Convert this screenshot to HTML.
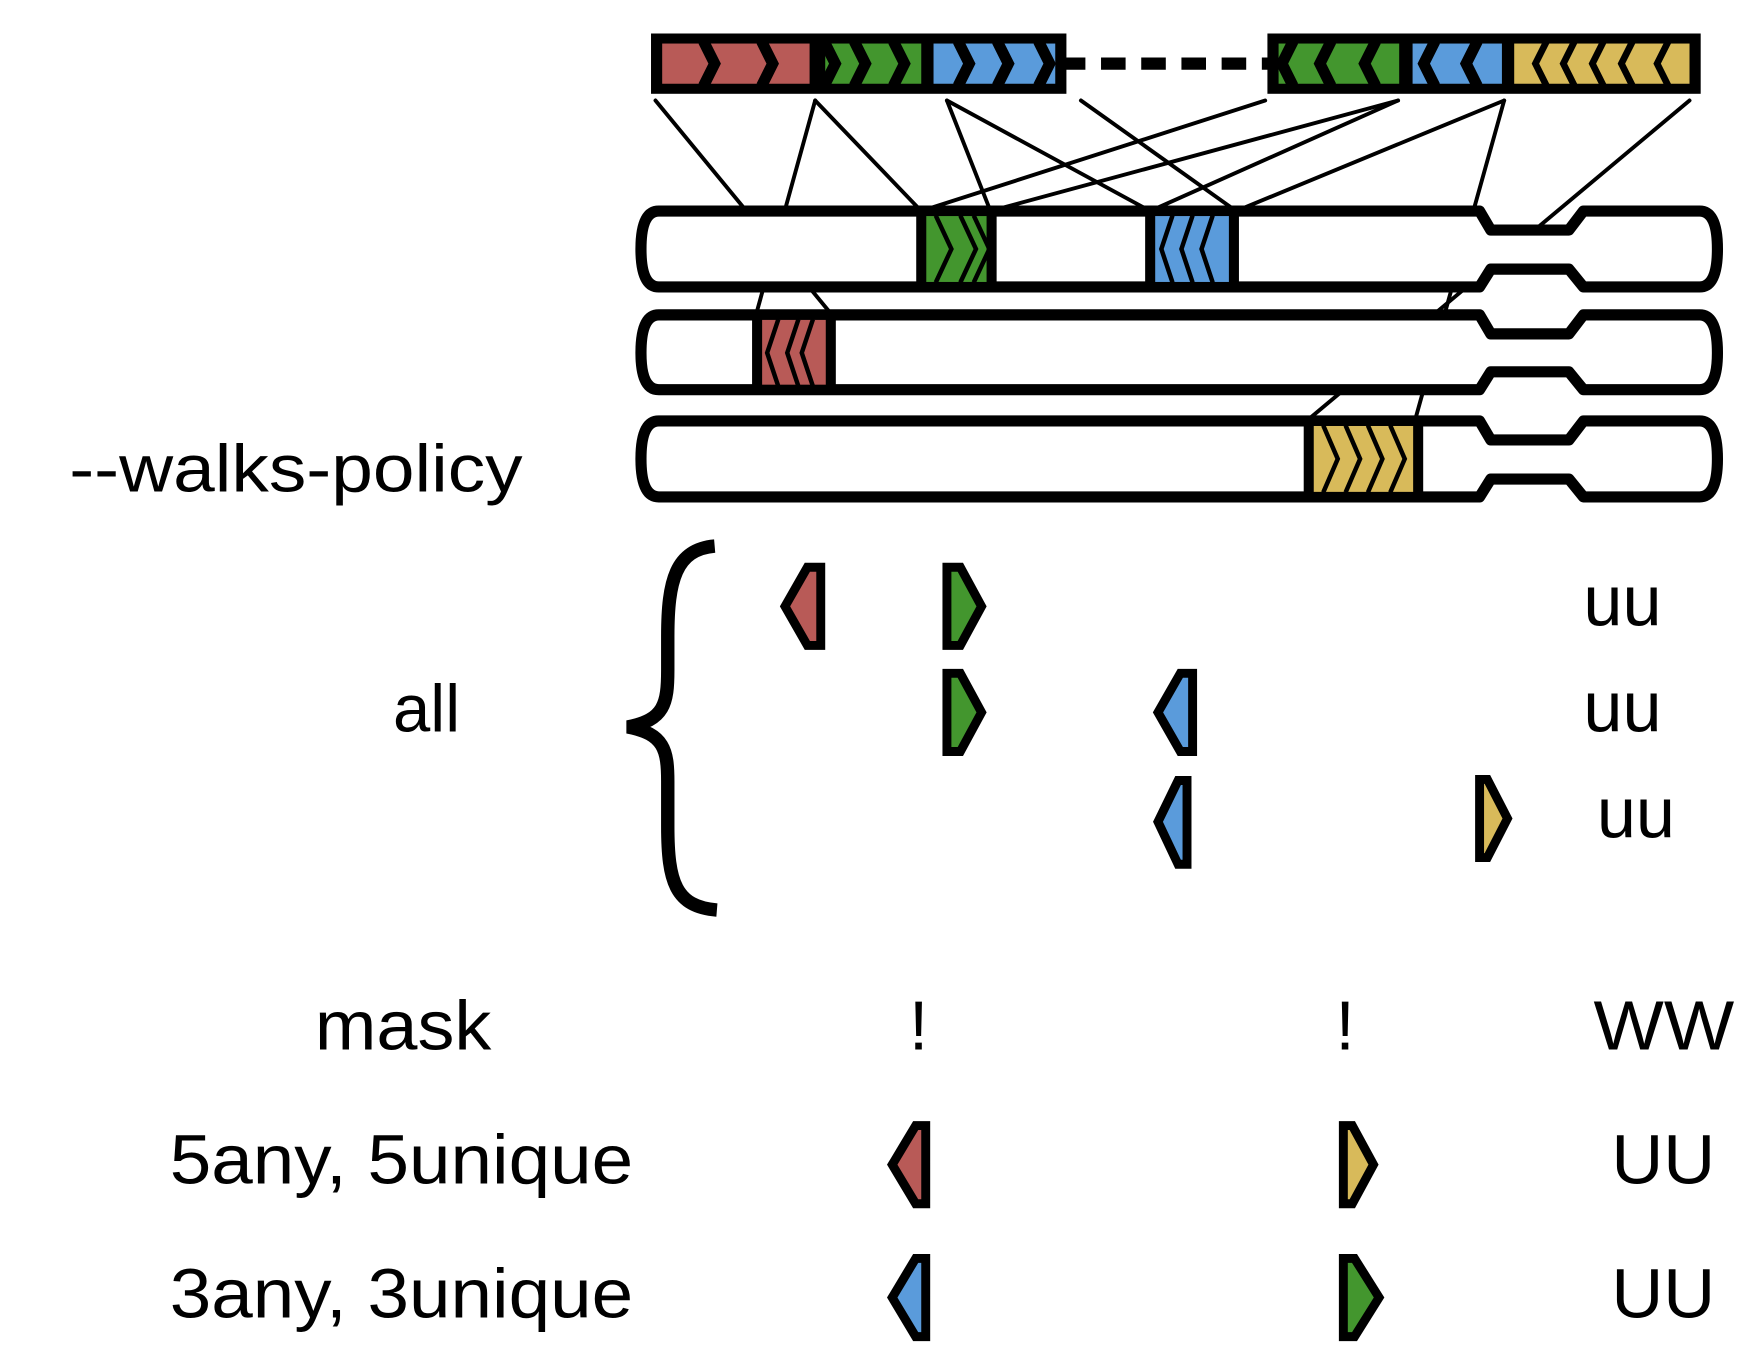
<!DOCTYPE html>
<html><head><meta charset="utf-8"><style>
html,body{margin:0;padding:0;background:#fff;}
svg{display:block;}
text{font-family:"Liberation Sans",Arial,sans-serif;fill:#000;}
</style></head><body>
<svg width="1742" height="1350" viewBox="0 0 1560 1209" preserveAspectRatio="none" xmlns="http://www.w3.org/2000/svg">
<g stroke="#000" stroke-width="3.5" fill="none" stroke-linecap="round">
<line x1="587" y1="90" x2="745" y2="282"/>
<line x1="730" y1="90" x2="677" y2="282"/>
<line x1="730" y1="90" x2="825" y2="189"/>
<line x1="848" y1="90" x2="887" y2="189"/>
<line x1="848" y1="90" x2="1030" y2="189"/>
<line x1="968" y1="90" x2="1107" y2="189"/>
<line x1="1133" y1="90" x2="825" y2="189"/>
<line x1="1252" y1="90" x2="887" y2="189"/>
<line x1="1252" y1="90" x2="1030" y2="189"/>
<line x1="1347" y1="90" x2="1107" y2="189"/>
<line x1="1347" y1="90" x2="1267" y2="377"/>
<line x1="1513" y1="90" x2="1170" y2="377"/>
</g>
<line x1="950" y1="57" x2="1140" y2="57" stroke="#000" stroke-width="11" stroke-dasharray="22,14"/>
<rect x="583" y="30" width="372" height="54" fill="#000"/>
<rect x="593" y="39" width="132" height="36" fill="#B85A57"/>
<rect x="739" y="39" width="86" height="36" fill="#43962E"/>
<rect x="836" y="39" width="109" height="36" fill="#5A9BDB"/>
<rect x="1135" y="30" width="388" height="54" fill="#000"/>
<rect x="1145" y="39" width="108" height="36" fill="#43962E"/>
<rect x="1265" y="39" width="80" height="36" fill="#5A9BDB"/>
<rect x="1356" y="39" width="157" height="36" fill="#D8BA5A"/>
<g stroke="#000" stroke-width="10" fill="none">
<polyline points="630,37 640,57 630,77"/><polyline points="682,37 692,57 682,77"/>
<polyline points="738,37 748,57 738,77"/><polyline points="765,37 775,57 765,77"/><polyline points="800,37 810,57 800,77"/>
<polyline points="858,37 868,57 858,77"/><polyline points="893,37 903,57 893,77"/><polyline points="930,37 940,57 930,77"/>
<polyline points="1158,37 1148,57 1158,77"/><polyline points="1192,37 1182,57 1192,77"/><polyline points="1232,37 1222,57 1232,77"/>
<polyline points="1285,37 1275,57 1285,77"/><polyline points="1323,37 1313,57 1323,77"/>
</g>
<g stroke="#000" stroke-width="6" fill="none">
<polyline points="1385,37 1375,57 1385,77"/><polyline points="1410,37 1400,57 1410,77"/><polyline points="1436,37 1426,57 1436,77"/><polyline points="1462,37 1452,57 1462,77"/><polyline points="1494,37 1484,57 1494,77"/>
</g>
<g fill="#fff" stroke="#000" stroke-width="10" stroke-linejoin="round">
<path d="M590 189 L1325 189 L1335 206 L1405 206 L1418 189 L1522 189 Q1538 189 1538 223 Q1538 257 1522 257 L1418 257 L1405 241 L1335 241 L1325 257 L590 257 Q574 257 574 223 Q574 189 590 189 Z"/>
<path d="M590 282 L1325 282 L1335 299 L1405 299 L1418 282 L1522 282 Q1538 282 1538 316 Q1538 349 1522 349 L1418 349 L1405 333 L1335 333 L1325 349 L590 349 Q574 349 574 316 Q574 282 590 282 Z"/>
<path d="M590 377 L1325 377 L1335 394 L1405 394 L1418 377 L1522 377 Q1538 377 1538 411 Q1538 445 1522 445 L1418 445 L1405 429 L1335 429 L1325 445 L590 445 Q574 445 574 411 Q574 377 590 377 Z"/>
</g>
<g stroke="#000" stroke-width="9">
<rect x="825" y="189" width="63" height="68" fill="#43962E"/>
<rect x="1030" y="189" width="75" height="68" fill="#5A9BDB"/>
<rect x="678" y="282" width="66" height="67" fill="#B85A57"/>
<rect x="1172" y="377" width="98" height="68" fill="#D8BA5A"/>
</g>
<g stroke="#000" stroke-width="4" fill="none">
<polyline points="838,193 852,223 838,253"/><polyline points="860,193 874,223 860,253"/><polyline points="872,193 886,223 872,253"/>
<polyline points="1050,193 1040,223 1050,253"/><polyline points="1068,193 1058,223 1068,253"/><polyline points="1086,193 1076,223 1086,253"/>
<polyline points="697,286 687,316 697,346"/><polyline points="715,286 705,316 715,346"/><polyline points="728,286 718,316 728,346"/>
<polyline points="1185,381 1198,411 1185,441"/><polyline points="1205,381 1218,411 1205,441"/><polyline points="1225,381 1238,411 1225,441"/><polyline points="1245,381 1258,411 1245,441"/>
</g>
<path d="M640 489 C605 492 598 520 598 570 L598 600 C598 630 595 645 562 651 C595 657 598 672 598 700 L598 740 C598 790 605 812 642 815" fill="none" stroke="#000" stroke-width="12"/>
<g stroke="#000" stroke-width="8" stroke-linejoin="miter">
<polygon points="735,508 735,578 723,578 703,543 723,508" fill="#B85A57"/>
<polygon points="848,508 848,578 860,578 879,543 860,508" fill="#43962E"/>
<polygon points="848,603 848,673 860,673 879,638 860,603" fill="#43962E"/>
<polygon points="1068,603 1068,673 1057,673 1037,638 1057,603" fill="#5A9BDB"/>
<polygon points="1063,699 1063,774 1055,774 1037,736 1055,699" fill="#5A9BDB"/>
<polygon points="1325,698 1325,768 1332,768 1350,733 1332,698" fill="#D8BA5A"/>
<polygon points="829,1008 829,1078 820,1078 799,1043 820,1008" fill="#B85A57"/>
<polygon points="1203,1008 1203,1078 1211,1078 1230,1043 1211,1008" fill="#D8BA5A"/>
<polygon points="829,1127 829,1197 820,1197 799,1162 820,1127" fill="#5A9BDB"/>
<polygon points="1203,1127 1203,1197 1213,1197 1235,1162 1213,1127" fill="#43962E"/>
</g>
<text x="62" y="440" font-size="60" textLength="406" lengthAdjust="spacingAndGlyphs">--walks-policy</text>
<text x="352" y="655" font-size="60">all</text>
<text x="1418" y="560" font-size="64" textLength="70" lengthAdjust="spacingAndGlyphs">uu</text>
<text x="1418" y="655" font-size="64" textLength="70" lengthAdjust="spacingAndGlyphs">uu</text>
<text x="1430" y="750" font-size="64" textLength="70" lengthAdjust="spacingAndGlyphs">uu</text>
<text x="282" y="940" font-size="62" textLength="158" lengthAdjust="spacingAndGlyphs">mask</text>
<text x="814" y="940" font-size="62">!</text>
<text x="1196" y="940" font-size="62">!</text>
<text x="1427" y="940" font-size="62" textLength="126" lengthAdjust="spacingAndGlyphs">WW</text>
<text x="152" y="1060" font-size="62" textLength="415" lengthAdjust="spacingAndGlyphs">5any, 5unique</text>
<text x="1443" y="1060" font-size="62" textLength="93" lengthAdjust="spacingAndGlyphs">UU</text>
<text x="152" y="1180" font-size="62" textLength="415" lengthAdjust="spacingAndGlyphs">3any, 3unique</text>
<text x="1443" y="1180" font-size="62" textLength="93" lengthAdjust="spacingAndGlyphs">UU</text>
</svg>
</body></html>
